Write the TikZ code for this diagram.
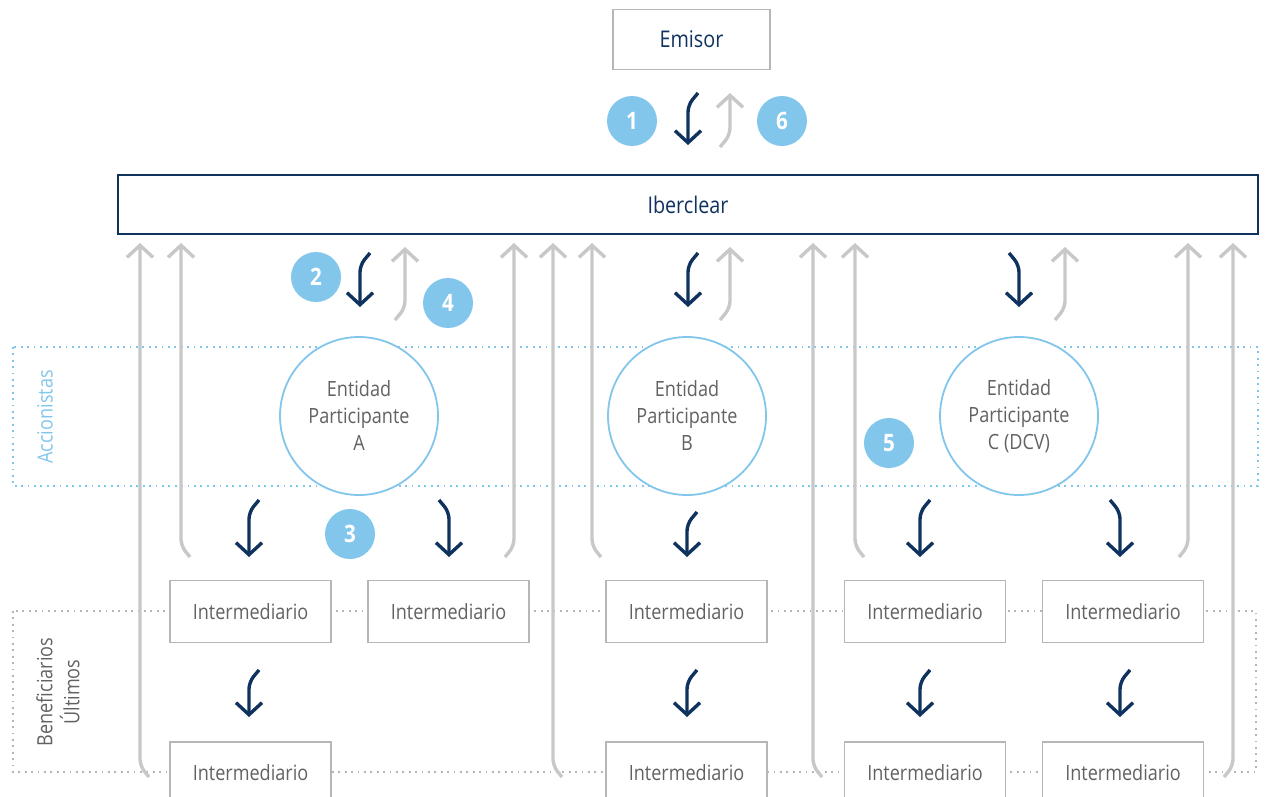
\documentclass[tikz,border=0pt]{standalone}
\usepackage{fontspec}
\setmainfont{Open Sans}[FakeStretch=0.86]
\usetikzlibrary{arrows.meta}
\definecolor{navy}{RGB}{16,50,94}
\definecolor{lgrey}{RGB}{200,200,200}
\definecolor{bgrey}{RGB}{182,182,182}
\definecolor{tgrey}{RGB}{98,98,98}
\definecolor{sky}{RGB}{130,198,236}
\begin{document}
\begin{tikzpicture}[x=1pt,y=-1pt]
  \tikzstyle{every node}=[font=\fontsize{21}{27}\selectfont]
  \tikzstyle{box}=[draw=bgrey,line width=1.8pt,fill=white,text=tgrey,minimum width=161pt,minimum height=62pt]
  \tikzstyle{entidad}=[circle,draw=sky,line width=1.8pt,fill=white,text=tgrey,minimum size=158pt,align=center]
  \tikzstyle{num}=[circle,fill=sky,text=white,minimum size=50pt,inner sep=0pt,font=\fontsize{24}{24}\selectfont\bfseries]
  \tikzstyle{dk}=[navy,line width=3.4pt,rounded corners=7pt,-{Straight Barb[length=12pt,width=26pt]}]
  \tikzstyle{gr}=[lgrey,line width=3.4pt,rounded corners=7pt,-{Straight Barb[length=12pt,width=26pt]}]
  \tikzstyle{dots}=[line width=1.8pt,dash pattern=on 1.8pt off 4.6pt]
  \useasboundingbox (0,0) rectangle (1265,796);
  \clip (0,0) rectangle (1265,796);
  % zones
  \draw[dots,sky] (13,347) rectangle (1258,486);
  \draw[dots,bgrey] (13,611) rectangle (1256,772);
  \node[rotate=90,text=sky] (acc) at (45,417) {Accionistas};
  \node[rotate=90,text=tgrey,align=center] (ben) at (58,692) {Beneficiarios\\Últimos};
  % top
  \node[box,text=navy,minimum width=157pt,minimum height=60pt,font=\fontsize{23}{27}\selectfont] (emisor) at (691.5,39.5) {Emisor};
  \node[draw=navy,line width=1.8pt,fill=white,text=navy,minimum width=1140pt,minimum height=59pt,font=\fontsize{23}{27}\selectfont] (iber) at (688,204.5) {Iberclear};
  % entidades
  \node[entidad] (epa) at (359,416) {Entidad\\Participante\\A};
  \node[entidad] (epb) at (687,416) {Entidad\\Participante\\B};
  \node[entidad] (epc) at (1019,416) {Entidad\\Participante\\C (DCV)};
  % intermediarios
  \node[box] (ia1) at (250.5,611.5) {Intermediario};
  \node[box] (ia2) at (448.5,611.5) {Intermediario};
  \node[box] (ib1) at (686.5,611.5) {Intermediario};
  \node[box] (ic1) at (925,611.5) {Intermediario};
  \node[box] (ic2) at (1123,611.5) {Intermediario};
  \node[box] (ia3) at (250.5,773) {Intermediario};
  \node[box] (ib2) at (686.5,773) {Intermediario};
  \node[box] (ic3) at (925,773) {Intermediario};
  \node[box] (ic4) at (1123,773) {Intermediario};
  % pasos
  \node[num] (n1) at (632,121) {1};
  \node[num] (n6) at (782,121) {6};
  \node[num] (n2) at (316,277) {2};
  \node[num] (n4) at (448,303) {4};
  \node[num] (n3) at (350,534) {3};
  \node[num] (n5) at (889,443) {5};
  % flechas hacia abajo
  \foreach \x/\t/\b/\d in {688/93/145/1, 360/253/307/1, 688/253/307/1, 1019/253/307/-1,
      249/500/557/1, 449/500/557/-1, 687/512/557/1, 920/500/557/1, 1120/500/557/-1,
      249/670/717/1, 687/670/717/1, 920/670/717/1, 1120/670/717/1}
    \draw[dk] (\x+10*\d,\t) -- (\x,\t+12) -- (\x,\b);
  % flechas hacia arriba
  \foreach \x/\t/\b in {730/93/147, 405/247/320, 730/247/320, 1065/247/320}
    \draw[gr] (\x-10,\b) -- (\x,\b-12) -- (\x,\t);
  \foreach \x/\b/\d in {140/777/1, 181/557/1, 514/557/-1, 553/777/1, 592/557/1,
      813/777/1, 855/557/1, 1188/557/-1, 1233/777/-1}
    \draw[gr] (\x+9*\d,\b) -- (\x,\b-11) -- (\x,243);
\end{tikzpicture}
\end{document}
